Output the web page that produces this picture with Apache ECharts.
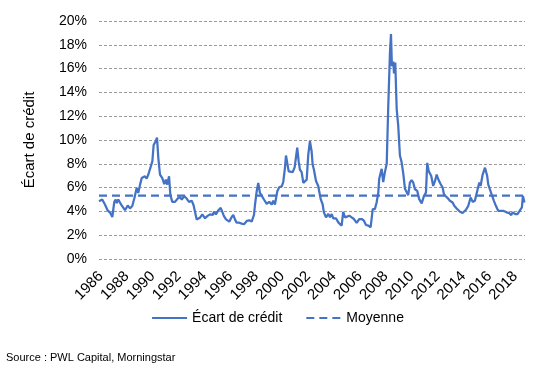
<!DOCTYPE html>
<html>
<head>
<meta charset="utf-8">
<script src="https://cdn.jsdelivr.net/npm/echarts@6/dist/echarts.min.js"></script>
<style>html,body{margin:0;padding:0;background:#fff}#c{width:555px;height:373px}</style>
</head>
<body>
<div id="c"></div>
<script>
// Decimal years (x) and credit spread in % (y)
var dates = [1985.85,1986.10,1986.31,1986.52,1986.70,1986.88,1987.03,1987.14,1987.22,1987.34,1987.60,1987.86,1988.07,1988.24,1988.42,1988.58,1988.76,1988.88,1989.02,1989.15,1989.40,1989.53,1989.66,1989.81,1989.97,1990.07,1990.23,1990.33,1990.43,1990.56,1990.74,1990.89,1991.02,1991.12,1991.26,1991.36,1991.51,1991.72,1991.93,1992.10,1992.24,1992.44,1992.62,1992.80,1993.01,1993.16,1993.39,1993.65,1993.83,
1994.04,1994.21,1994.42,1994.63,1994.73,1994.88,1995.06,1995.25,1995.37,1995.50,1995.66,1995.76,1995.91,1996.10,1996.22,1996.35,1996.48,1996.68,1996.87,1997.05,1997.26,1997.46,1997.64,1997.82,1997.90,1998.03,1998.15,1998.28,1998.41,1998.59,1998.80,1999.00,1999.19,1999.31,1999.44,1999.62,1999.77,1999.96,2000.08,2000.21,2000.29,2000.39,2000.50,2000.65,2000.81,2000.96,2001.06,2001.16,2001.27,2001.37,2001.50,2001.63,2001.76,2001.89,2002.01,2002.14,
2002.27,2002.35,2002.45,2002.61,2002.78,2002.97,2003.12,2003.22,2003.38,2003.56,2003.69,2003.82,2003.94,2004.15,2004.33,2004.46,2004.59,2004.71,2004.85,2004.98,2005.18,2005.36,2005.54,2005.75,2005.95,2006.14,2006.31,2006.47,2006.65,2006.83,2006.99,2007.16,2007.29,2007.42,
2007.49,2007.68,2007.80,2007.93,2008.07,2008.19,2008.32,2008.40,2008.47,2008.58,2008.63,2008.73,2008.84,2008.96,2009.09,2009.22,2009.35,2009.48,2009.61,2009.73,
2009.86,2009.99,2010.12,2010.25,2010.43,2010.58,2010.77,2010.95,2011.10,2011.20,2011.31,2011.41,2011.51,2011.66,2011.80,2011.93,2012.05,2012.24,2012.39,2012.49,2012.65,2012.82,2012.95,2013.16,2013.29,2013.47,2013.60,2013.73,2013.93,2014.04,2014.19,2014.37,2014.55,2014.71,2014.88,2015.06,2015.22,2015.32,2015.48,2015.66,2015.73,2015.83,2015.91,2016.04,2016.17,2016.35,2016.50,2016.68,2016.87,2017.07,2017.20,2017.33,2017.53,2017.69,2017.80,2017.99,2018.17,2018.32,2018.51,2018.59,2018.71];
var spread = [4.86,5.0,4.58,4.08,3.9,3.53,4.8,5.0,4.7,5.0,4.5,4.1,4.5,4.25,4.45,5.1,5.97,5.55,6.25,6.8,6.95,6.75,7.1,7.1,8.2,9.58,9.9,10.2,8.5,7.1,6.8,6.3,6.67,6.25,6.95,5.4,4.8,4.8,5.08,5.2,5.0,5.28,5.08,4.8,4.9,4.5,3.33,3.47,3.75,
3.42,3.6,3.75,3.7,3.97,3.75,4.08,4.3,4.25,3.6,3.33,3.47,3.14,3.53,3.7,3.33,3.05,3.05,2.97,2.92,3.2,3.25,3.14,3.7,4.58,5.7,6.4,5.55,5.55,5.0,4.64,4.8,4.58,4.9,4.58,5.7,6.03,6.1,6.47,7.64,8.7,8.75,7.36,7.5,7.3,7.7,7.64,9.36,8.2,7.5,7.3,6.4,6.25,6.67,8.75,9.9,
9.05,7.94,7.5,6.55,6.14,5.03,4.6,3.92,3.5,3.78,3.5,3.78,3.42,3.42,3.08,2.94,2.8,3.97,3.5,3.36,3.64,3.5,3.36,3.03,3.36,3.36,3.22,2.86,2.8,2.67,4.2,4.2,4.75,5.58,
6.75,7.58,6.47,7.3,8.0,12.86,17.3,18.9,16.2,16.6,15.6,16.5,12.6,11.2,8.7,8.14,7.17,5.9,6.05,5.36,
6.42,6.64,6.42,5.86,5.72,5.03,4.67,5.3,5.58,8.08,7.39,7.53,6.97,6.14,6.56,7.1,6.7,6.28,6.0,5.44,5.25,5.08,4.89,4.75,4.47,4.25,4.14,3.97,3.86,3.86,4.14,4.47,5.17,4.8,4.89,5.72,6.42,6.14,7.1,7.67,7.8,6.97,6.28,6.14,5.44,4.89,4.47,4.05,4.05,4.05,4.2,3.92,3.86,3.69,3.92,3.78,3.78,3.64,4.33,5.3,4.75];
var meanValue = 5.32;
var xStart = 1985.85, xEnd = 2018.75;
var yearLabels = [1986,1988,1990,1992,1994,1996,1998,2000,2002,2004,2006,2008,2010,2012,2014,2016,2018];
var yTicks = {min: 0, max: 20, interval: 2};
var seriesNames = ['Écart de crédit', 'Moyenne'];
var sourceText = 'Source : PWL Capital, Morningstar';

var lineData = dates.map(function (d, i) { return [d, spread[i]]; });
var meanData = [[xStart, meanValue], [xEnd, meanValue]];
var font = 'Liberation Sans, Arial, sans-serif';
var blue = '#4472C4';

var chart = echarts.init(document.getElementById('c'), null, {renderer: 'canvas'});
chart.setOption({
  animation: false,
  backgroundColor: '#fff',
  textStyle: {fontFamily: font, color: '#000'},
  grid: {left: 99, right: 30, top: 21, bottom: 114, containLabel: false},
  xAxis: {
    type: 'value', min: xStart, max: xEnd,
    axisLine: {show: false}, axisTick: {show: false}, splitLine: {show: false},
    axisLabel: {
      customValues: yearLabels, rotate: 45, margin: 15,
      fontSize: 15, color: '#000', fontFamily: font,
      formatter: function (v) { return String(Math.round(v)); }
    }
  },
  yAxis: {
    type: 'value', min: yTicks.min, max: yTicks.max, interval: yTicks.interval,
    name: 'Écart de crédit', nameLocation: 'middle', nameGap: 62, nameRotate: 90,
    nameTextStyle: {fontSize: 15, color: '#000', fontFamily: font},
    axisLine: {show: false}, axisTick: {show: false},
    axisLabel: {formatter: '{value}%', fontSize: 14, color: '#000', margin: 12, fontFamily: font},
    splitLine: {show: true, lineStyle: {color: '#9a9a9a', width: 1, type: [3, 2]}}
  },
  legend: {
    bottom: 43, left: 'center', itemWidth: 35, itemHeight: 10, itemGap: 23,
    itemStyle: {opacity: 0},
    textStyle: {fontSize: 14, color: '#000', fontFamily: font},
    data: seriesNames
  },
  graphic: [{
    type: 'text', left: 6, top: 352,
    style: {text: sourceText, fontSize: 11, fill: '#000', fontFamily: font}
  }],
  series: [
    {name: seriesNames[0], type: 'line', data: lineData, symbol: 'none', showSymbol: false,
     lineStyle: {color: blue, width: 2.25}, itemStyle: {color: blue}},
    {name: seriesNames[1], type: 'line', data: meanData, symbol: 'none', showSymbol: false,
     lineStyle: {color: blue, width: 2.25, type: [8, 5]}, itemStyle: {color: blue}}
  ]
});
</script>
</body>
</html>
